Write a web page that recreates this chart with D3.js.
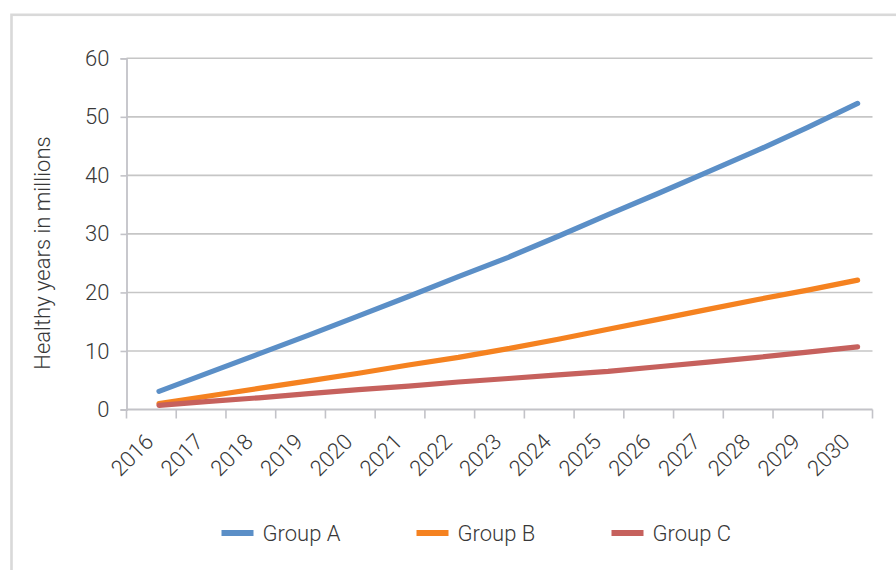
<!DOCTYPE html>
<html><head><meta charset="utf-8">
<script src="https://cdn.jsdelivr.net/npm/d3@7"></script>
<style>
html,body{margin:0;padding:0;background:#fff;}
svg text{font-family:Roboto,"Liberation Sans",sans-serif;font-weight:300;fill:#383838;}
</style></head>
<body>
<svg id="chart" width="896" height="570"></svg>
<script>
const years = ["2016","2017","2018","2019","2020","2021","2022","2023","2024","2025","2026","2027","2028","2029","2030"];
const groupA = [3.1, 6.3, 9.5, 12.7, 16.0, 19.3, 22.7, 26.0, 29.6, 33.3, 36.9, 40.6, 44.3, 48.2, 52.3];
const groupB = [1.0, 2.3, 3.6, 4.9, 6.2, 7.6, 8.9, 10.4, 12.0, 13.7, 15.4, 17.1, 18.8, 20.4, 22.1];
const groupC = [0.7, 1.4, 2.0, 2.7, 3.4, 4.0, 4.7, 5.3, 5.9, 6.5, 7.3, 8.1, 8.9, 9.8, 10.7];
const seriesNames = ["Group A", "Group B", "Group C"];
const seriesColors = ["#5b8fc7", "#f58220", "#c6615d"];
const yTicks = [0, 10, 20, 30, 40, 50, 60];
const yTitle = "Healthy years in millions";

const FS = 22;
const svg = d3.select("#chart");
// outer frame
svg.append("rect").attr("x", 11.5).attr("y", 14.8).attr("width", 900).attr("height", 600)
  .attr("fill", "none").attr("stroke", "#d9d9d9").attr("stroke-width", 2.6);

const mLeft = 126.5, mRight = 872.5, mTop = 58.3, mBottom = 409.5;
const x = d3.scaleBand().domain(years).range([mLeft, mRight]);
const xp = d3.scalePoint().domain(years).range([159, 857.6]);
const y = d3.scaleLinear().domain([0, 60]).range([mBottom, mTop]);

// gridlines
svg.append("g").selectAll("line").data(yTicks.filter(d => d > 0)).join("line")
  .attr("x1", mLeft).attr("x2", mRight).attr("y1", d => y(d)).attr("y2", d => y(d))
  .attr("stroke", "#c6c6c6").attr("stroke-width", 1.6);

// y axis
const yAxis = svg.append("g").attr("transform", `translate(${mLeft},0)`)
  .call(d3.axisLeft(y).tickValues(yTicks).tickSize(6).tickPadding(11).tickFormat(d3.format("d")));
yAxis.select(".domain").attr("stroke", "#c3c3c8").attr("stroke-width", 1.8);
yAxis.selectAll(".tick line").attr("stroke", "#c3c3c8").attr("stroke-width", 1.6);
yAxis.selectAll(".tick text").attr("font-size", FS).attr("fill", "#383838")
  .style("font-family", "Roboto, 'Liberation Sans', sans-serif").style("font-weight", 300);

// x axis
const xAxisG = svg.append("g").attr("transform", `translate(0,${mBottom})`);
xAxisG.append("line").attr("x1", mLeft).attr("x2", mRight).attr("y1", 0).attr("y2", 0)
  .attr("stroke", "#c3c3c8").attr("stroke-width", 1.8);
const boundaries = years.map(d => x(d)).concat([x(years[years.length - 1]) + x.bandwidth()]);
xAxisG.selectAll("line.tk").data(boundaries).join("line").attr("class", "tk")
  .attr("x1", d => d).attr("x2", d => d).attr("y1", 0).attr("y2", 9)
  .attr("stroke", "#c3c3c8").attr("stroke-width", 1.6);
svg.append("g").selectAll("text").data(years).join("text")
  .attr("transform", d => `translate(${x(d) + x.bandwidth() / 2 + 3.5},${mBottom + 33.5}) rotate(-45)`)
  .attr("text-anchor", "end").attr("font-size", FS)
  .text(d => d);

// y title
svg.append("text").attr("transform", `translate(50,253) rotate(-90)`)
  .attr("text-anchor", "middle").attr("font-size", FS).text(yTitle);

// lines
const data = [groupA, groupB, groupC];
const line = d3.line().x((d, i) => xp(years[i])).y(d => y(d));
svg.append("g").selectAll("path").data(data).join("path")
  .attr("d", d => line(d)).attr("fill", "none")
  .attr("stroke", (d, i) => seriesColors[i]).attr("stroke-width", 5.2)
  .attr("stroke-linecap", "round").attr("stroke-linejoin", "round");

// legend
const legend = svg.append("g").attr("transform", "translate(221.5,533)");
const items = legend.selectAll("g").data(seriesNames).join("g")
  .attr("transform", (d, i) => `translate(${i * 195},0)`);
items.append("line").attr("x1", 0).attr("x2", 32).attr("y1", 0).attr("y2", 0)
  .attr("stroke", (d, i) => seriesColors[i]).attr("stroke-width", 6);
items.append("text").attr("x", 41).attr("dy", "0.35em").attr("font-size", FS).text(d => d);
</script>
</body></html>
